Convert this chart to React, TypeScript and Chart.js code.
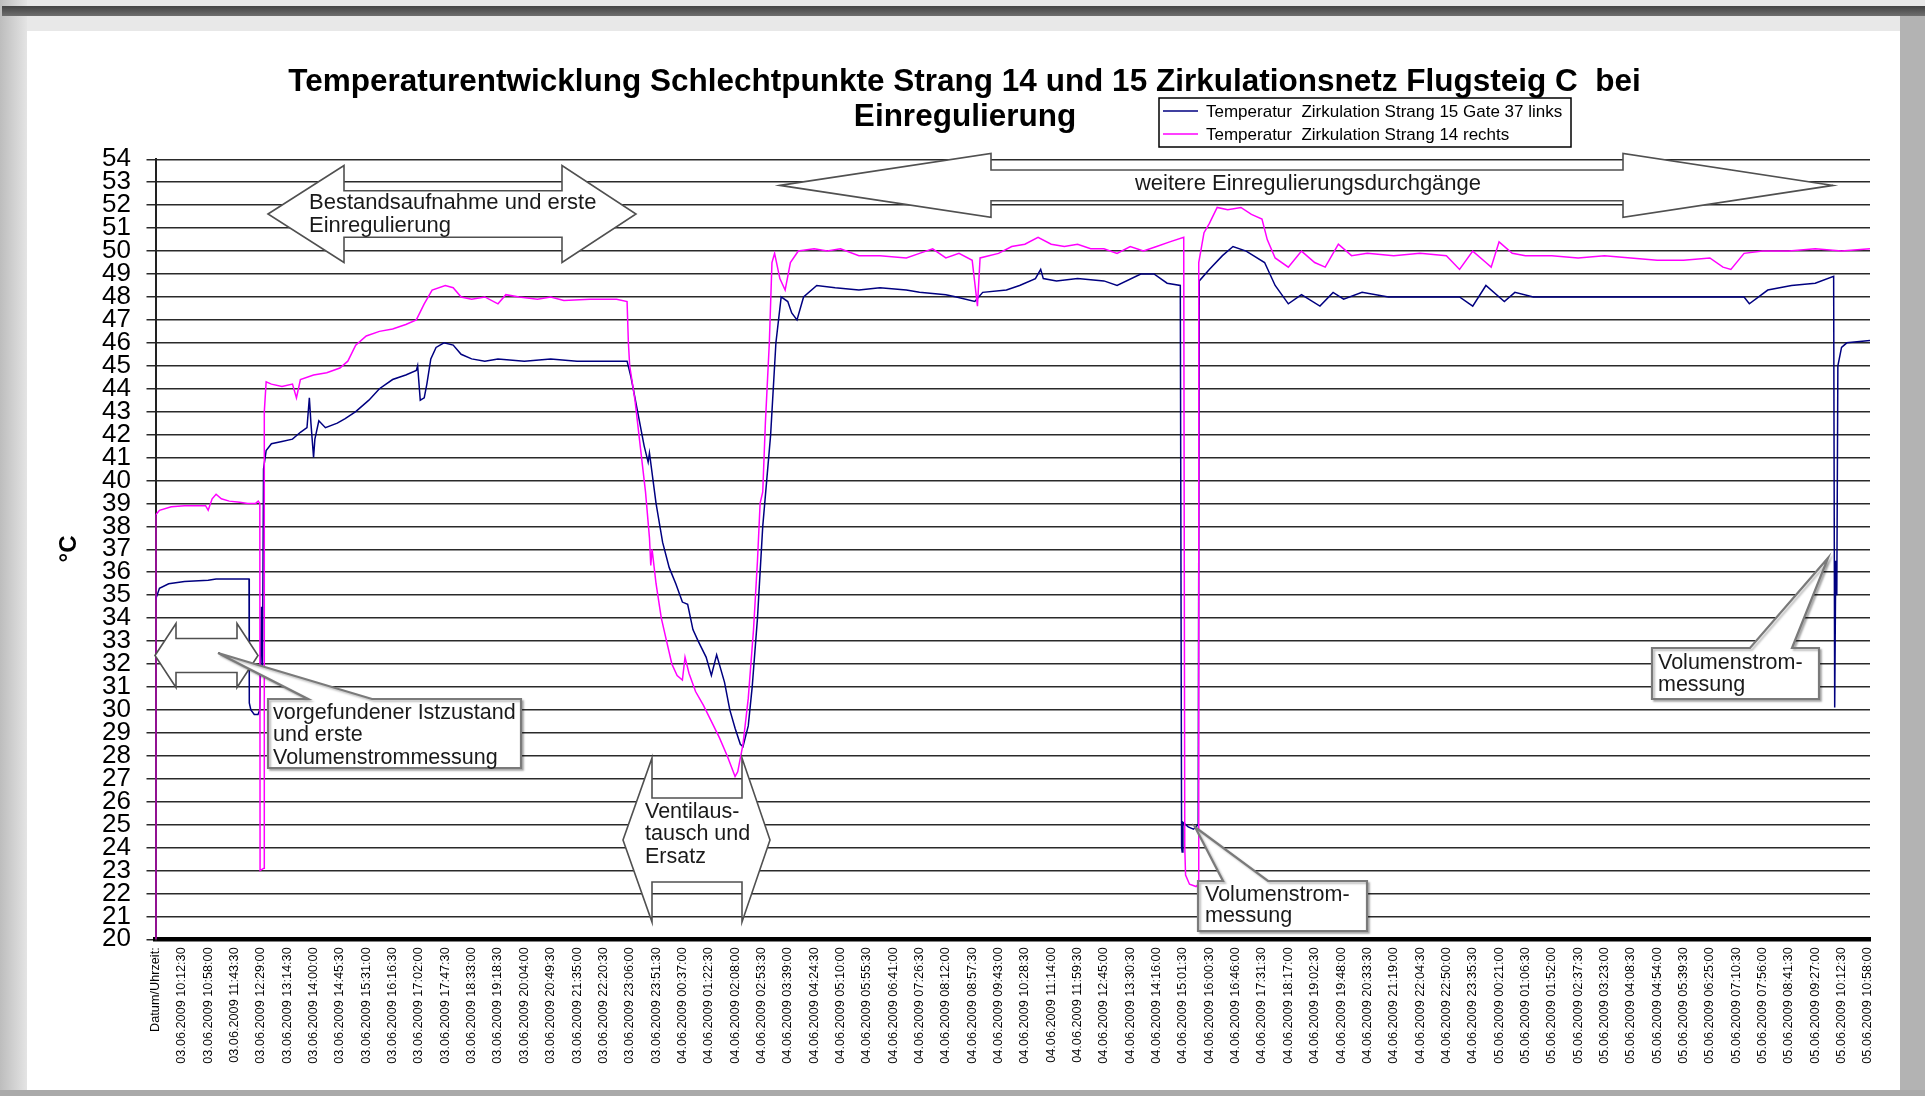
import { useEffect, useRef } from "react";
import { Chart, registerables } from "chart.js";
Chart.register(...registerables);

const FONT = "'Liberation Sans', Arial, sans-serif";

const titleLines = [
  "Temperaturentwicklung Schlechtpunkte Strang 14 und 15 Zirkulationsnetz Flugsteig C  bei",
  "Einregulierung",
];
const seriesNames = [
  "Temperatur  Zirkulation Strang 15 Gate 37 links",
  "Temperatur  Zirkulation Strang 14 rechts",
];
const yTitle = "°C";

const timeLabels = [
  "Datum/Uhrzeit:",
  "03.06.2009 10:12:30", "03.06.2009 10:58:00", "03.06.2009 11:43:30", "03.06.2009 12:29:00",
  "03.06.2009 13:14:30", "03.06.2009 14:00:00", "03.06.2009 14:45:30", "03.06.2009 15:31:00",
  "03.06.2009 16:16:30", "03.06.2009 17:02:00", "03.06.2009 17:47:30", "03.06.2009 18:33:00",
  "03.06.2009 19:18:30", "03.06.2009 20:04:00", "03.06.2009 20:49:30", "03.06.2009 21:35:00",
  "03.06.2009 22:20:30", "03.06.2009 23:06:00", "03.06.2009 23:51:30",
  "04.06.2009 00:37:00", "04.06.2009 01:22:30", "04.06.2009 02:08:00", "04.06.2009 02:53:30",
  "04.06.2009 03:39:00", "04.06.2009 04:24:30", "04.06.2009 05:10:00", "04.06.2009 05:55:30",
  "04.06.2009 06:41:00", "04.06.2009 07:26:30", "04.06.2009 08:12:00", "04.06.2009 08:57:30",
  "04.06.2009 09:43:00", "04.06.2009 10:28:30", "04.06.2009 11:14:00", "04.06.2009 11:59:30",
  "04.06.2009 12:45:00", "04.06.2009 13:30:30", "04.06.2009 14:16:00", "04.06.2009 15:01:30",
  "04.06.2009 16:00:30", "04.06.2009 16:46:00", "04.06.2009 17:31:30", "04.06.2009 18:17:00",
  "04.06.2009 19:02:30", "04.06.2009 19:48:00", "04.06.2009 20:33:30", "04.06.2009 21:19:00",
  "04.06.2009 22:04:30", "04.06.2009 22:50:00", "04.06.2009 23:35:30",
  "05.06.2009 00:21:00", "05.06.2009 01:06:30", "05.06.2009 01:52:00", "05.06.2009 02:37:30",
  "05.06.2009 03:23:00", "05.06.2009 04:08:30", "05.06.2009 04:54:00", "05.06.2009 05:39:30",
  "05.06.2009 06:25:00", "05.06.2009 07:10:30", "05.06.2009 07:56:00", "05.06.2009 08:41:30",
  "05.06.2009 09:27:00", "05.06.2009 10:12:30", "05.06.2009 10:58:00",
];

// position along the time axis in label steps (0 = first label), temperature in °C
const blueIdx = [
  0, 0.15, 0.5, 1.1, 2.0, 2.3, 3.0, 3.55, 3.56, 3.62, 3.75, 3.89, 3.96, 4.02, 4.06, 4.1, 4.2, 4.4, 4.8, 5.2,
  5.5, 5.75, 5.84, 5.9, 6.0, 6.05, 6.2, 6.45, 6.9, 7.2, 7.6, 8.1, 8.5, 9.0, 9.5, 9.9, 9.95, 10.05, 10.2, 10.3,
  10.45, 10.65, 10.95, 11.3, 11.6, 12.0, 12.5, 13.0, 14.0, 15.0, 16.0, 17.0, 17.9, 18.05, 18.3, 18.55, 18.7, 18.75, 19.0, 19.25,
  19.5, 19.75, 20.0, 20.2, 20.4, 20.6, 20.9, 21.1, 21.3, 21.6, 21.8, 22.0, 22.2, 22.3, 22.5, 22.65, 22.85, 23.05, 23.35, 23.55,
  23.75, 24.0, 24.15, 24.35, 24.6, 25.1, 25.8, 26.7, 27.5, 28.5, 29.0, 30.0, 30.4, 31.1, 31.4, 32.3, 32.8, 33.4, 33.6, 33.7,
  34.2, 35.0, 36.0, 36.5, 37.4, 37.9, 38.4, 38.9, 38.95, 38.97, 39.0, 39.2, 39.4, 39.58, 39.62, 40.0, 40.5, 40.9, 41.4, 42.1,
  42.5, 43.0, 43.5, 44.2, 44.7, 45.1, 45.8, 46.8, 48.0, 49.5, 50.0, 50.5, 51.2, 51.6, 52.3, 55.0, 58.0, 60.3, 60.5, 61.2,
  62.1, 63.0, 63.7, 63.74, 63.78, 63.82, 63.86, 64.0, 64.2, 65.08,
];
const blueTemp = [
  34.8, 35.3, 35.5, 35.6, 35.65, 35.7, 35.7, 35.7, 30.3, 30.0, 29.8, 29.8, 30.0, 34.5, 31.5, 40.5, 41.3, 41.6, 41.7, 41.8,
  42.1, 42.3, 43.6, 42.5, 41.0, 41.8, 42.6, 42.3, 42.5, 42.7, 43.0, 43.5, 44.0, 44.4, 44.6, 44.8, 45.0, 43.5, 43.6, 44.2,
  45.3, 45.8, 46.0, 45.9, 45.5, 45.3, 45.2, 45.3, 45.2, 45.3, 45.2, 45.2, 45.2, 44.5, 43.0, 41.5, 40.8, 41.2, 39.0, 37.3,
  36.2, 35.5, 34.7, 34.6, 33.5, 33.0, 32.3, 31.5, 32.4, 31.2, 30.0, 29.2, 28.5, 28.4, 29.3, 31.0, 34.0, 38.0, 42.0, 46.0,
  48.0, 47.8, 47.3, 47.0, 48.0, 48.5, 48.4, 48.3, 48.4, 48.3, 48.2, 48.1, 48.0, 47.8, 48.2, 48.3, 48.5, 48.8, 49.2, 48.8,
  48.7, 48.8, 48.7, 48.5, 49.0, 49.0, 48.6, 48.5, 24.0, 23.8, 25.1, 24.9, 24.8, 25.0, 48.7, 49.2, 49.8, 50.2, 50.0, 49.5,
  48.5, 47.7, 48.1, 47.6, 48.2, 47.9, 48.2, 48.0, 48.0, 48.0, 47.6, 48.5, 47.8, 48.2, 48.0, 48.0, 48.0, 48.0, 47.7, 48.3,
  48.5, 48.6, 48.9, 30.1, 36.5, 35.0, 45.0, 45.8, 46.0, 46.1,
];

const pinkIdx = [
  0, 0.01, 0.15, 0.6, 1.1, 1.9, 2.0, 2.15, 2.3, 2.5, 2.8, 3.2, 3.5, 3.8, 3.9, 3.96, 3.97, 4.12, 4.13, 4.2,
  4.4, 4.8, 5.2, 5.35, 5.5, 6.0, 6.5, 7.0, 7.3, 7.6, 8.0, 8.5, 9.0, 9.5, 9.9, 10.2, 10.5, 11.0, 11.3, 11.6,
  12.0, 12.5, 13.0, 13.3, 13.8, 14.5, 15.0, 15.5, 16.5, 17.5, 17.9, 17.95, 18.0, 18.2, 18.4, 18.6, 18.75, 18.8, 18.85, 19.0,
  19.2, 19.4, 19.6, 19.8, 20.0, 20.1, 20.25, 20.5, 20.8, 21.1, 21.4, 21.7, 22.0, 22.1, 22.3, 22.5, 22.7, 22.85, 22.95, 23.05,
  23.15, 23.3, 23.4, 23.5, 23.7, 23.9, 24.1, 24.4, 25.0, 25.5, 26.0, 26.7, 27.5, 28.5, 29.0, 29.5, 30.0, 30.5, 31.0, 31.2,
  31.3, 32.0, 32.5, 33.0, 33.5, 34.0, 34.5, 35.0, 35.5, 36.0, 36.5, 37.0, 37.5, 38.0, 38.5, 39.03, 39.07, 39.1, 39.25, 39.5,
  39.58, 39.6, 39.8, 40.0, 40.3, 40.7, 41.2, 41.6, 42.0, 42.2, 42.5, 43.0, 43.5, 44.0, 44.4, 44.9, 45.4, 46.0, 47.0, 48.0,
  49.0, 49.5, 50.0, 50.5, 50.7, 51.0, 51.5, 52.0, 53.0, 54.0, 55.0, 56.0, 57.0, 58.0, 59.0, 59.5, 59.8, 60.3, 61.0, 62.0,
  63.0, 64.0, 65.08,
];
const pinkTemp = [
  0, 38.5, 38.7, 38.85, 38.9, 38.9, 38.7, 39.2, 39.4, 39.2, 39.1, 39.05, 39.0, 39.0, 39.1, 39.0, 23.0, 23.1, 43.0, 44.3,
  44.2, 44.1, 44.2, 43.6, 44.4, 44.6, 44.7, 44.9, 45.2, 45.9, 46.3, 46.5, 46.6, 46.8, 47.0, 47.7, 48.3, 48.5, 48.4, 48.0,
  47.9, 48.0, 47.7, 48.1, 48.0, 47.9, 48.0, 47.85, 47.9, 47.9, 47.8, 46.0, 45.0, 43.5, 41.5, 39.5, 37.5, 36.3, 37.0, 35.5,
  34.0, 33.0, 32.0, 31.5, 31.3, 32.3, 31.6, 30.8, 30.2, 29.5, 28.8, 28.0, 27.1, 27.3, 28.5, 30.5, 33.5, 36.5, 39.0, 39.5,
  42.5, 46.0, 49.5, 49.9, 48.8, 48.3, 49.5, 50.0, 50.1, 50.0, 50.1, 49.8, 49.8, 49.7, 49.9, 50.1, 49.7, 49.9, 49.6, 47.6,
  49.7, 49.9, 50.2, 50.3, 50.6, 50.3, 50.2, 50.3, 50.1, 50.1, 49.9, 50.2, 50.0, 50.2, 50.4, 50.6, 24.0, 22.8, 22.4, 22.3,
  22.4, 49.5, 50.8, 51.2, 51.9, 51.8, 51.9, 51.6, 51.4, 50.5, 49.7, 49.3, 50.0, 49.5, 49.3, 50.3, 49.8, 49.9, 49.8, 49.9,
  49.8, 49.2, 50.0, 49.5, 49.3, 50.4, 49.9, 49.8, 49.8, 49.7, 49.8, 49.7, 49.6, 49.6, 49.7, 49.3, 49.2, 49.9, 50.0, 50.0,
  50.1, 50.0, 50.1,
];

const Y_MIN = 20;
const Y_MAX = 54;
const X_MAX = 65.08;

const noteLines = {
  bestand: ["Bestandsaufnahme und erste", "Einregulierung"],
  weitere: ["weitere Einregulierungsdurchgänge"],
  ist: ["vorgefundener Istzustand", "und erste", "Volumenstrommessung"],
  ventil: ["Ventilaus-", "tausch und", "Ersatz"],
  vol1: ["Volumenstrom-", "messung"],
  vol2: ["Volumenstrom-", "messung"],
};

type Pt = [number, number];

function shape(ctx: CanvasRenderingContext2D, pts: Pt[], stroke = "#505050", lw = 1.6) {
  ctx.beginPath();
  ctx.moveTo(pts[0][0], pts[0][1]);
  for (let i = 1; i < pts.length; i++) ctx.lineTo(pts[i][0], pts[i][1]);
  ctx.closePath();
  ctx.fillStyle = "#ffffff";
  ctx.fill();
  ctx.lineWidth = lw;
  ctx.strokeStyle = stroke;
  ctx.lineJoin = "miter";
  ctx.stroke();
}

function dblArrow(
  ctx: CanvasRenderingContext2D,
  x1: number, x2: number, cy: number, hb1: number, hb2: number, hh: number, sh: number,
) {
  shape(ctx, [
    [x1, cy], [hb1, cy - hh], [hb1, cy - sh], [hb2, cy - sh], [hb2, cy - hh],
    [x2, cy], [hb2, cy + hh], [hb2, cy + sh], [hb1, cy + sh], [hb1, cy + hh],
  ]);
}

function callout(
  ctx: CanvasRenderingContext2D,
  l: number, t: number, r: number, b: number, b1: number, b2: number, tx: number, ty: number,
) {
  ctx.save();
  ctx.shadowColor = "rgba(0,0,0,0.25)";
  ctx.shadowOffsetX = 2;
  ctx.shadowOffsetY = 2;
  ctx.shadowBlur = 2;
  shape(ctx, [[l, t], [b1, t], [tx, ty], [b2, t], [r, t], [r, b], [l, b]], "#7a7a7a", 2.2);
  ctx.restore();
}

function lines(ctx: CanvasRenderingContext2D, txt: string[], x: number, y: number, lh: number) {
  txt.forEach((s, i) => ctx.fillText(s, x, y + i * lh));
}

const overlayPlugin = {
  id: "overlay",
  afterDraw(chart: Chart) {
    const ctx = chart.ctx;
    ctx.save();
    // title
    ctx.fillStyle = "#000";
    ctx.textBaseline = "middle";
    ctx.textAlign = "center";
    ctx.font = `bold 31.5px ${FONT}`;
    ctx.fillText(titleLines[0], 964.5, 82);
    ctx.fillText(titleLines[1], 965, 117);

    // y title
    ctx.save();
    ctx.translate(69, 549);
    ctx.rotate(-Math.PI / 2);
    ctx.font = `bold 24px ${FONT}`;
    ctx.fillText(yTitle, 0, 0);
    ctx.restore();

    // legend
    ctx.fillStyle = "#fff";
    ctx.fillRect(1159, 98, 412, 49);
    ctx.strokeStyle = "#000";
    ctx.lineWidth = 1.5;
    ctx.strokeRect(1159, 98, 412, 49);
    const legendColors = ["#000080", "#ff00ff"];
    seriesNames.forEach((n, i) => {
      const y = 111 + i * 23;
      ctx.strokeStyle = legendColors[i];
      ctx.lineWidth = 1.6;
      ctx.beginPath();
      ctx.moveTo(1163, y);
      ctx.lineTo(1198, y);
      ctx.stroke();
      ctx.fillStyle = "#000";
      ctx.textAlign = "left";
      ctx.font = `17px ${FONT}`;
      ctx.fillText(n, 1206, y + 1);
    });

    // shapes
    dblArrow(ctx, 268, 636, 214, 344, 562, 48.5, 23.3);
    dblArrow(ctx, 780, 1833, 185.4, 991, 1623, 31.9, 15.4);
    dblArrow(ctx, 155, 258, 655.5, 176, 237, 32, 17);
    shape(ctx, [
      [652, 758], [652, 798], [742, 798], [742, 758], [770, 840], [742, 922],
      [742, 882], [652, 882], [652, 922], [623, 840],
    ]);
    callout(ctx, 268, 699, 521, 768, 308, 372, 218, 653);
    callout(ctx, 1198, 881, 1367, 931, 1223, 1268, 1195, 827);
    callout(ctx, 1652, 648, 1819, 699, 1750, 1792, 1828, 558);

    ctx.fillStyle = "#1a1a1a";
    ctx.textAlign = "left";
    ctx.font = `22px ${FONT}`;
    lines(ctx, noteLines.bestand, 309, 203, 23);
    ctx.font = `21.5px ${FONT}`;
    lines(ctx, noteLines.ist, 273, 713, 22.5);
    lines(ctx, noteLines.ventil, 645, 812, 22.5);
    lines(ctx, noteLines.vol1, 1205, 895, 21.5);
    lines(ctx, noteLines.vol2, 1658, 663, 22);
    ctx.textAlign = "center";
    ctx.font = `22px ${FONT}`;
    lines(ctx, noteLines.weitere, 1308, 184, 22);
    ctx.restore();
  },
};

export default function App() {
  const ref = useRef<HTMLCanvasElement | null>(null);
  useEffect(() => {
    document.body.style.margin = "0";
    const canvas = ref.current;
    if (!canvas) return;
    const toPts = (xs: number[], ys: number[]) => xs.map((x, i) => ({ x, y: ys[i] }));
    const chart = new Chart(canvas, {
      type: "line",
      data: {
        datasets: [
          {
            label: seriesNames[0],
            data: toPts(blueIdx, blueTemp),
            borderColor: "#000080",
            borderWidth: 1.5,
            pointRadius: 0,
            tension: 0,
            order: 1,
          },
          {
            label: seriesNames[1],
            data: toPts(pinkIdx, pinkTemp),
            borderColor: "#ff00ff",
            borderWidth: 1.5,
            pointRadius: 0,
            tension: 0,
            order: 0,
          },
        ],
      },
      options: {
        responsive: false,
        animation: false,
        devicePixelRatio: 1,
        layout: { padding: { left: 0, right: 55, top: 159.3, bottom: 0 } },
        plugins: { legend: { display: false }, title: { display: false }, tooltip: { enabled: false } },
        scales: {
          x: {
            type: "linear",
            min: 0,
            max: X_MAX,
            afterBuildTicks: (scale: any) => {
              scale.ticks = timeLabels.map((_, i) => ({ value: i }));
            },
            afterFit: (scale: any) => {
              scale.height = 1096 - 939.3;
            },
            ticks: {
              autoSkip: false,
              maxRotation: 90,
              minRotation: 90,
              padding: 8,
              color: "#000",
              font: { family: FONT, size: 12.7 },
              callback: (v: any) => timeLabels[Math.round(Number(v))] ?? "",
            },
            grid: { display: false, drawTicks: false },
            border: { display: true, color: "#000", width: 4.5 },
          },
          y: {
            min: Y_MIN,
            max: Y_MAX,
            afterFit: (scale: any) => {
              scale.width = 155.5;
            },
            ticks: {
              stepSize: 1,
              autoSkip: false,
              padding: 15.5,
              color: "#000",
              font: { family: FONT, size: 26 },
            },
            grid: { color: "#2a2a2a", lineWidth: 1.5, tickLength: 9 },
            border: { color: "#222", width: 2 },
          },
        },
      },
      plugins: [overlayPlugin],
    } as any);
    return () => chart.destroy();
  }, []);

  return (
    <div style={{ position: "relative", width: 1925, height: 1096, background: "#e8e8e8", overflow: "hidden" }}>
      <div style={{ position: "absolute", left: 0, top: 0, width: 27, height: 1096, background: "linear-gradient(to right, #bdbdbd, #e4e4e4)" }} />
      <div style={{ position: "absolute", left: 2, top: 6, width: 1923, height: 10, background: "linear-gradient(#444, #6e6e6e)" }} />
      <div style={{ position: "absolute", left: 1900, top: 16, width: 25, height: 1080, background: "#b3b3b3" }} />
      <div style={{ position: "absolute", left: 0, top: 1090, width: 1925, height: 6, background: "#aaaaaa" }} />
      <div style={{ position: "absolute", left: 27, top: 31, width: 1873, height: 1059, background: "#ffffff" }} />
      <canvas ref={ref} width={1925} height={1096} style={{ position: "absolute", left: 0, top: 0, width: 1925, height: 1096 }} />
    </div>
  );
}
